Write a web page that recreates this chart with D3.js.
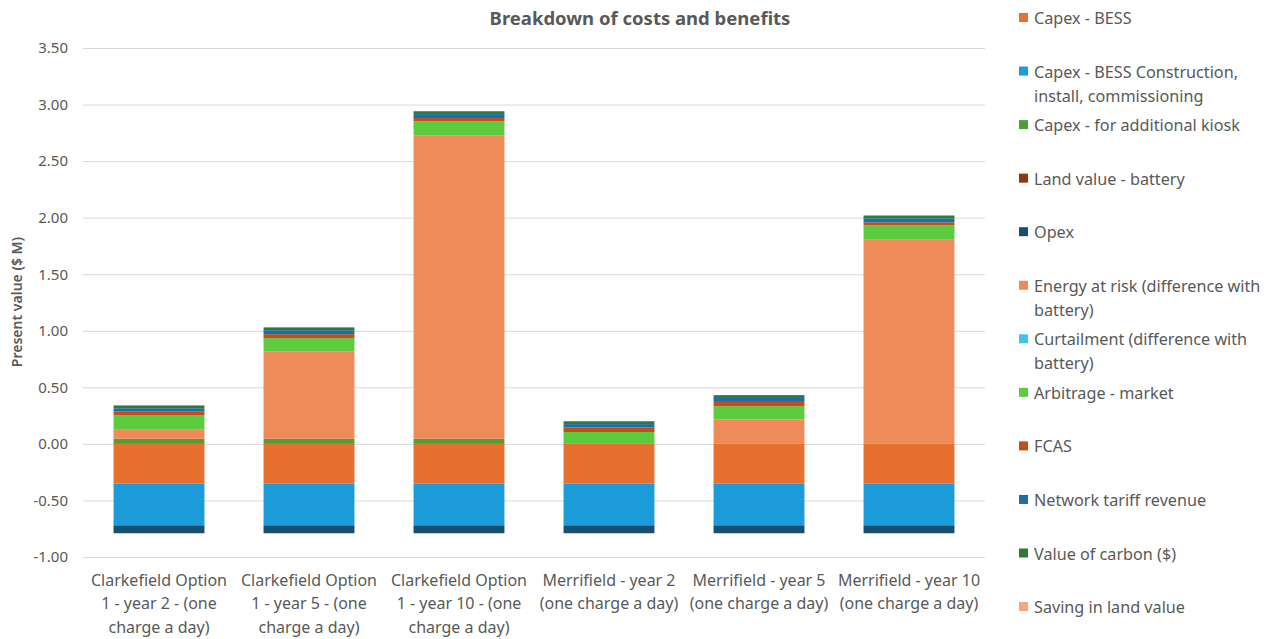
<!DOCTYPE html>
<html>
<head>
<meta charset="utf-8">
<script src="https://cdn.jsdelivr.net/npm/d3@7/dist/d3.min.js"></script>
<style>
  html, body { margin: 0; padding: 0; background: #fff; }
  svg { display: block; font-family: "Noto Sans", "Open Sans", sans-serif; }
</style>
</head>
<body>
<svg id="chart" width="1267" height="639"></svg>
<script>
// ---- data ----
const categories = [
  ["Clarkefield Option", "1 - year 2 - (one", "charge a day)"],
  ["Clarkefield Option", "1 - year 5 - (one", "charge a day)"],
  ["Clarkefield Option", "1 - year 10 - (one", "charge a day)"],
  ["Merrifield - year 2", "(one charge a day)"],
  ["Merrifield - year 5", "(one charge a day)"],
  ["Merrifield - year 10", "(one charge a day)"]
];
const seriesNames = [
  "Capex - BESS",
  "Capex - BESS Construction, install, commissioning",
  "Capex - for additional kiosk",
  "Land value - battery",
  "Opex",
  "Energy at risk (difference with battery)",
  "Curtailment (difference with battery)",
  "Arbitrage - market",
  "FCAS",
  "Network tariff revenue",
  "Value of carbon ($)",
  "Saving in land value"
];
const legendLines = [
  ["Capex - BESS"],
  ["Capex - BESS Construction,", "install, commissioning"],
  ["Capex - for additional kiosk"],
  ["Land value - battery"],
  ["Opex"],
  ["Energy at risk (difference with", "battery)"],
  ["Curtailment (difference with", "battery)"],
  ["Arbitrage - market"],
  ["FCAS"],
  ["Network tariff revenue"],
  ["Value of carbon ($)"],
  ["Saving in land value"]
];
const seriesColors = [
  "#E8702F", "#1B9BD7", "#4E9F35", "#8B3A10", "#174F70", "#EE8B58",
  "#3FC3F0", "#5CCB3D", "#C24E1C", "#1B6FA8", "#2E7A3A", "#F4A582"
];
const capexBESS    = [-0.35, -0.35, -0.35, -0.35, -0.35, -0.35];
const capexConstr  = [-0.37, -0.37, -0.37, -0.37, -0.37, -0.37];
const capexKiosk   = [0.045, 0.045, 0.045, 0, 0, 0];
const landValue    = [0, 0, 0, 0, 0, 0];
const opex         = [-0.07, -0.07, -0.07, -0.07, -0.07, -0.07];
const energyRisk   = [0.08, 0.77, 2.68, 0, 0.215, 1.81];
const curtailment  = [0, 0, 0, 0, 0, 0];
const arbitrage    = [0.13, 0.12, 0.126, 0.105, 0.118, 0.124];
const fcas         = [0.03, 0.035, 0.03, 0.04, 0.038, 0.025];
const networkTariff= [0.03, 0.035, 0.035, 0.03, 0.035, 0.035];
const carbon       = [0.025, 0.025, 0.025, 0.025, 0.025, 0.025];
const savingLand   = [0, 0, 0, 0, 0, 0];
const yTicks = [-1.0, -0.5, 0, 0.5, 1.0, 1.5, 2.0, 2.5, 3.0, 3.5];

const seriesValues = [capexBESS, capexConstr, capexKiosk, landValue, opex, energyRisk,
  curtailment, arbitrage, fcas, networkTariff, carbon, savingLand];

// ---- layout ----
const svg = d3.select("#chart");
const margin = {left: 84, right: 283, top: 48, bottom: 82};
const W = 1267, H = 639;
const x = d3.scaleBand().domain(d3.range(categories.length))
  .range([margin.left, W - margin.right]).paddingInner(0.394).paddingOuter(0.197);
const y = d3.scaleLinear().domain([-1, 3.5]).range([557, 48]);

const rows = categories.map((c, i) => {
  const r = {idx: i};
  seriesNames.forEach((s, j) => r[s] = seriesValues[j][i]);
  return r;
});
const stacked = d3.stack().keys(seriesNames).offset(d3.stackOffsetDiverging)(rows);

// gridlines
const fmt = d3.formatLocale({decimal: ".", thousands: ",", grouping: [3], currency: ["$", ""], minus: "-"}).format(".2f");
const yAxis = d3.axisLeft(y).tickValues(yTicks).tickFormat(fmt)
  .tickSize(-(W - margin.right - margin.left + 2)).tickPadding(15);
const gy = svg.append("g").attr("transform", `translate(${margin.left - 1},0)`).call(yAxis);
gy.select(".domain").remove();
gy.selectAll(".tick line").attr("stroke", "#d9d9d9").attr("stroke-width", 1);
gy.selectAll(".tick text").attr("fill", "#595959").style("font-size", "15px")
  .style("font-family", "'Noto Sans', sans-serif");

// bars
svg.append("g").selectAll("g").data(stacked).join("g")
  .attr("fill", (d, i) => seriesColors[i])
  .selectAll("rect").data(d => d).join("rect")
  .attr("x", d => x(d.data.idx))
  .attr("width", x.bandwidth())
  .attr("y", d => y(Math.max(d[0], d[1])))
  .attr("height", d => Math.abs(y(d[0]) - y(d[1])));

// x labels
const xl = svg.append("g");
categories.forEach((lines, i) => {
  const t = xl.append("text").attr("text-anchor", "middle").attr("fill", "#595959")
    .style("font-size", "16px");
  lines.forEach((ln, k) => {
    t.append("tspan").attr("x", x(i) + x.bandwidth() / 2).attr("y", 585.5 + k * 23.5).text(ln);
  });
});

// title
svg.append("text").attr("x", 640).attr("y", 25).attr("text-anchor", "middle")
  .attr("fill", "#595959").style("font-size", "18.5px").style("font-weight", "bold")
  .text("Breakdown of costs and benefits");

// y axis title
svg.append("text").attr("transform", "translate(22,302) rotate(-90)")
  .attr("text-anchor", "middle").attr("fill", "#595959")
  .style("font-size", "14px").style("font-weight", "600")
  .text("Present value ($ M)");

// legend
const lg = svg.append("g");
legendLines.forEach((lines, i) => {
  const yy = 18 + i * 53.55;
  lg.append("rect").attr("x", 1019).attr("y", yy - 5).attr("width", 9).attr("height", 9)
    .attr("fill", seriesColors[i]);
  const t = lg.append("text").attr("fill", "#595959").style("font-size", "16.2px");
  lines.forEach((ln, k) => {
    t.append("tspan").attr("x", 1034).attr("y", yy + 6 + k * 24).text(ln);
  });
});
</script>
</body>
</html>
